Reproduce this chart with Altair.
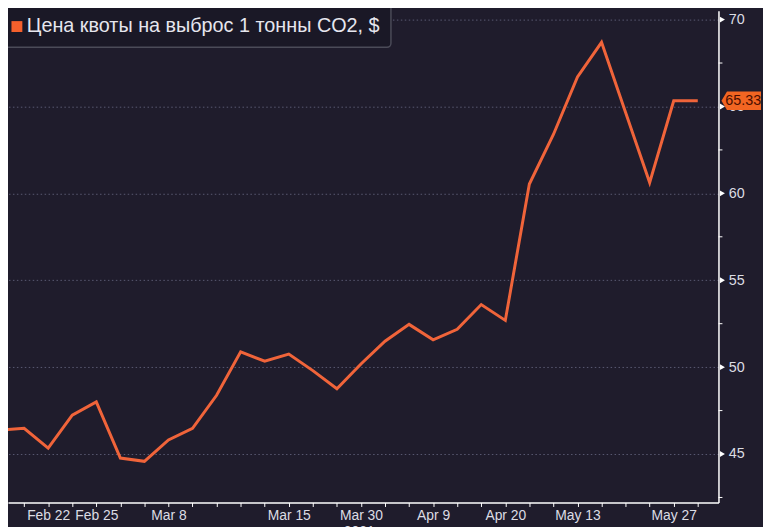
import altair as alt
import pandas as pd

# ---- data ----
idx = list(range(30))
price = [46.38, 46.48, 45.34, 47.24, 48.00, 44.77, 44.58, 45.81, 46.48, 48.38,
         50.88, 50.34, 50.75, 49.80, 48.76, 50.18, 51.49, 52.46, 51.57, 52.18,
         53.60, 52.69, 60.54, 63.39, 66.70, 68.69, 64.65, 60.62, 65.33, 65.33]
tick_pos = [2, 4, 7, 12, 15, 18, 21, 24, 28]
tick_labels = ["Feb 22", "Feb 25", "Mar 8", "Mar 15", "Mar 30", "Apr 9",
               "Apr 20", "May 13", "May 27"]
y_major = [45, 50, 55, 60, 65, 70]
y_minor = [42.5, 47.5, 52.5, 57.5, 62.5, 67.5]
last_value = 65.33
last_label = "65.33"
legend_text = "Цена квоты на выброс 1 тонны CO2, $"
year_label = "2021"

# ---- styling ----
W, H = 718, 497
BG = "#1f1c2c"
LINE = "#f0643a"
FONT = "Liberation Sans"
LABEL_COLOR = "#dcdce4"

xs = alt.Scale(domain=[0.33, 29.86], nice=False, zero=False)
ys = alt.Scale(domain=[42.21, 70.51], nice=False, zero=False)

label_expr = "".join(
    f"datum.value == {p} ? '{l}' : " for p, l in zip(tick_pos, tick_labels)
) + "''"

df = pd.DataFrame({"i": idx, "v": price})

line = alt.Chart(df).mark_line(color=LINE, strokeWidth=3, clip=True).encode(
    x=alt.X("i:Q", scale=xs, axis=alt.Axis(
        values=idx[1:], labelExpr=label_expr, tickSize=4, tickColor="white",
        domainColor="white", domainWidth=1.5, grid=False, labelFlush=False,
        labelFont=FONT, labelFontSize=14, labelColor=LABEL_COLOR,
        labelPadding=2, title=None, labelOverlap=False)),
    y=alt.Y("v:Q", scale=ys, axis=alt.Axis(
        orient="right", values=y_major, tickSize=0, domainColor="white",
        domainWidth=1.5, grid=True, gridDash=[1.5, 2.5], gridColor="#5a5a72",
        gridWidth=1, labelFont=FONT, labelFontSize=14.5, labelColor=LABEL_COLOR,
        labelPadding=10, title=None)),
)

minor = alt.Chart(pd.DataFrame({"v": y_minor})).mark_rule(
    color="white", strokeWidth=1).encode(
    x=alt.value(W), x2=alt.value(W + 4),
    y=alt.Y("v:Q", scale=ys),
)

major = alt.Chart(pd.DataFrame({"v": y_major})).mark_point(
    shape="triangle-right", filled=True, color="white", opacity=1, size=35).encode(
    x=alt.value(W + 4),
    y=alt.Y("v:Q", scale=ys),
)

last_df = pd.DataFrame({"v": [last_value], "t": [last_label]})
tag = alt.Chart(last_df).mark_point(
    shape="M-1,0L-0.72,-0.47L1,-0.47L1,0.47L-0.72,0.47Z",
    filled=True, color="#f26522", opacity=1, size=1600).encode(
    x=alt.value(W + 23),
    y=alt.Y("v:Q", scale=ys),
)
tag_text = alt.Chart(last_df).mark_text(
    font=FONT, fontSize=14.5, color="#4a0e00", align="center",
    baseline="middle").encode(
    x=alt.value(W + 25),
    y=alt.Y("v:Q", scale=ys),
    text="t:N",
)

leg_df = pd.DataFrame({"t": [legend_text]})
leg_box = alt.Chart(leg_df).mark_rect(
    fill="#1a1826", stroke="#4b4b58", strokeWidth=1.5, cornerRadius=4).encode(
    x=alt.value(-12), x2=alt.value(387), y=alt.value(-12), y2=alt.value(37),
)
leg_sq = alt.Chart(leg_df).mark_square(
    color="#f4602c", filled=True, opacity=1, size=121).encode(
    x=alt.value(9), y=alt.value(16),
)
leg_txt = alt.Chart(leg_df).mark_text(
    font=FONT, fontSize=20, color="#e6e6ee", align="left",
    baseline="middle").encode(
    x=alt.value(19), y=alt.value(16), text="t:N",
)

year = alt.Chart(pd.DataFrame({"t": [year_label]})).mark_text(
    font=FONT, fontSize=14, color=LABEL_COLOR, align="center",
    baseline="top").encode(
    x=alt.value(355), y=alt.value(H + 23), text="t:N",
)

chart = alt.layer(
    line, minor, major, tag, tag_text, leg_box, leg_sq, leg_txt, year
).properties(
    width=W, height=H,
    autosize=alt.AutoSizeParams(type="none"),
    padding={"left": 0, "top": 0, "right": 45, "bottom": 22},
    background=BG,
).configure_view(stroke=None)

chart.save("out.html", embed_options={"renderer": "svg", "actions": False})
